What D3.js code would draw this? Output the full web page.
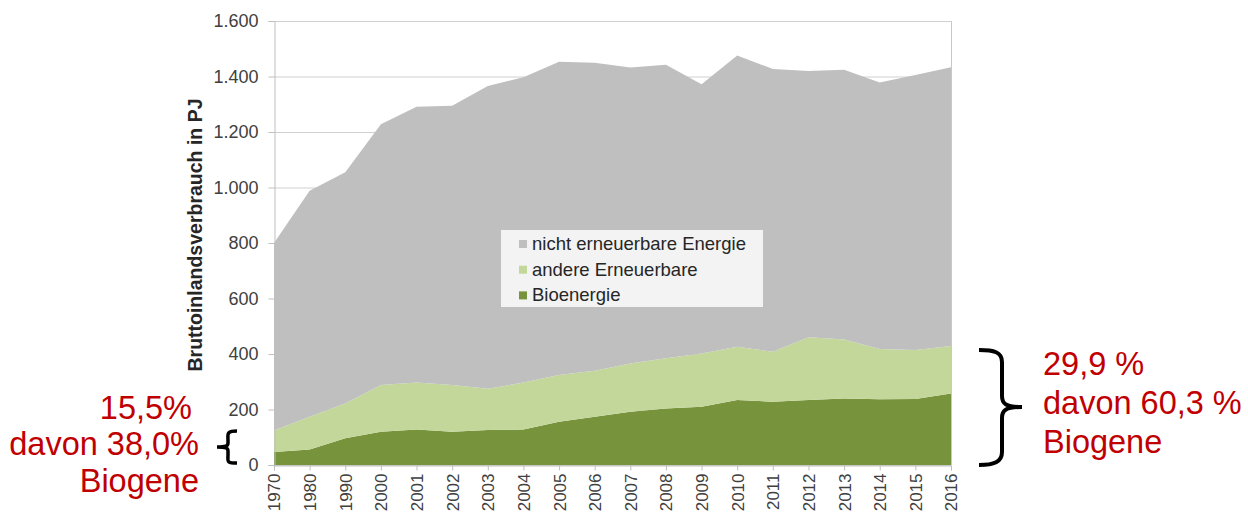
<!DOCTYPE html>
<head>
<meta charset="utf-8">
<style>
body { margin: 0; background: #fff; }
svg { font-family: Arial, "Liberation Sans", sans-serif; }
.grid line { stroke: #d0d0d0; stroke-width: 1; }
.axis text { fill: #404040; }
.note { fill: #c00000; font-size: 32.5px; }
</style>
</head>
<body>
<svg width="1248" height="517"></svg>
<script src="https://cdn.jsdelivr.net/npm/d3@7"></script>
<script>
// Jahre (Kategorien)
var years = ["1970","1980","1990","2000","2001","2002","2003","2004","2005","2006",
             "2007","2008","2009","2010","2011","2012","2013","2014","2015","2016"];
// Bruttoinlandsverbrauch in PJ, je Anteil
var bioenergie = [47,56,96,120,128,120,126,128,156,174,192,204,210,234,228,234,240,237,238,258];
var andereErneuerbare = [77,118,126,168,169,168,149,169,168,166,174,181,192,192,180,226,212,181,176,171];
var nichtErneuerbar = [676,814,833,940,994,1007,1091,1100,1129,1110,1066,1057,970,1050,1019,960,972,960,991,1004];
var yTicks = [0,200,400,600,800,1000,1200,1400,1600];

var keys = ["bio", "andere", "nicht"];
var labels = {nicht: "nicht erneuerbare Energie", andere: "andere Erneuerbare", bio: "Bioenergie"};
var color = {nicht: "#bfbfbf", andere: "#c4d79b", bio: "#77933c"};

var table = years.map(function(y, i) {
  return {year: y, bio: bioenergie[i], andere: andereErneuerbare[i], nicht: nichtErneuerbar[i]};
});

var svg = d3.select("svg");
var plotL = 274, plotR = 951, plotT = 21, plotB = 465;

var x = d3.scalePoint().domain(years).range([plotL, plotR]);
var y = d3.scaleLinear().domain([0, 1600]).range([plotB, plotT]);
var fmt = d3.formatLocale({decimal: ",", thousands: ".", grouping: [3]}).format(",");

// Gitterlinien
svg.append("g").attr("class", "grid")
  .selectAll("line").data(yTicks).enter().append("line")
  .attr("x1", plotL).attr("x2", plotR)
  .attr("y1", function(d) { return y(d) + 0.5; })
  .attr("y2", function(d) { return y(d) + 0.5; });

// Flächen
var series = d3.stack().keys(keys)(table);
var area = d3.area()
  .x(function(d) { return x(d.data.year); })
  .y0(function(d) { return y(d[0]); })
  .y1(function(d) { return y(d[1]); });

svg.append("g").selectAll("path").data(series).enter().append("path")
  .attr("fill", function(d) { return color[d.key]; })
  .attr("d", area);

// rechter Rahmen
svg.append("line").attr("x1", plotR + 0.5).attr("x2", plotR + 0.5)
  .attr("y1", plotT).attr("y2", plotB).attr("stroke", "#c8c8c8");

// y-Achse
var yAxis = svg.append("g").attr("class", "axis")
  .attr("transform", "translate(" + (plotL + 0.5) + ",0)")
  .call(d3.axisLeft(y).tickValues(yTicks).tickFormat(fmt).tickSize(6).tickPadding(10));
yAxis.select(".domain").attr("stroke", "#bfbfbf");
yAxis.selectAll(".tick line").attr("stroke", "#bfbfbf");
yAxis.selectAll("text").style("font-size", "18px");

// x-Achse
var xAxis = svg.append("g").attr("class", "axis")
  .attr("transform", "translate(0," + (plotB + 0.5) + ")")
  .call(d3.axisBottom(x).tickSize(5).tickPadding(0));
xAxis.select(".domain").attr("stroke", "#bfbfbf");
xAxis.selectAll(".tick line").attr("stroke", "#bfbfbf");
xAxis.selectAll("text")
  .style("font-size", "17px")
  .attr("text-anchor", "end")
  .attr("transform", "rotate(-90)")
  .attr("x", -8).attr("y", 0).attr("dy", "0.35em");

// Achsentitel
svg.append("text")
  .attr("transform", "translate(202,235) rotate(-90)")
  .attr("text-anchor", "middle")
  .style("font-size", "19.5px").style("font-weight", "bold").attr("fill", "#262626")
  .text("Bruttoinlandsverbrauch in PJ");

// Legende
var legend = svg.append("g").attr("transform", "translate(501,230)");
legend.append("rect").attr("width", 262).attr("height", 77).attr("fill", "#f3f3f3");
var li = legend.selectAll("g").data(["nicht", "andere", "bio"]).enter().append("g")
  .attr("transform", function(d, i) { return "translate(0," + (i * 25.7) + ")"; });
li.append("rect").attr("x", 18).attr("y", 10).attr("width", 8).attr("height", 8)
  .attr("fill", function(d) { return color[d]; });
li.append("text").attr("x", 31).attr("y", 20)
  .style("font-size", "18.5px").attr("fill", "#262626")
  .text(function(d) { return labels[d]; });

// Anmerkungen
var noteLeft = ["15,5%", "davon 38,0%", "Biogene"];
var noteRight = ["29,9 %", "davon 60,3 %", "Biogene"];

svg.append("g").selectAll("text").data(noteLeft).enter().append("text")
  .attr("class", "note").attr("text-anchor", "end")
  .attr("x", function(d, i) { return i === 0 ? 192 : 199; })
  .attr("y", function(d, i) { return 419 + i * 36.3; })
  .text(function(d) { return d; });

svg.append("g").selectAll("text").data(noteRight).enter().append("text")
  .attr("class", "note")
  .attr("x", 1043)
  .attr("y", function(d, i) { return 375 + i * 39; })
  .text(function(d) { return d; });

// Klammern
svg.append("path")
  .attr("d", "M237,431 C226,431 228,434 228,440 L228,443 C228,446 226,447 217,447 C226,447 228,448 228,451 L228,455 C228,461 226,463 237,463")
  .attr("fill", "none").attr("stroke", "#000").attr("stroke-width", 3.5);

svg.append("path")
  .attr("d", "M979,350 C994,350 1002,352 1002,362 L1002,396 C1002,404 1006,407 1022,407 C1006,407 1002,410 1002,418 L1002,452 C1002,462 994,465 979,465")
  .attr("fill", "none").attr("stroke", "#000").attr("stroke-width", 4);
</script>
</body>
